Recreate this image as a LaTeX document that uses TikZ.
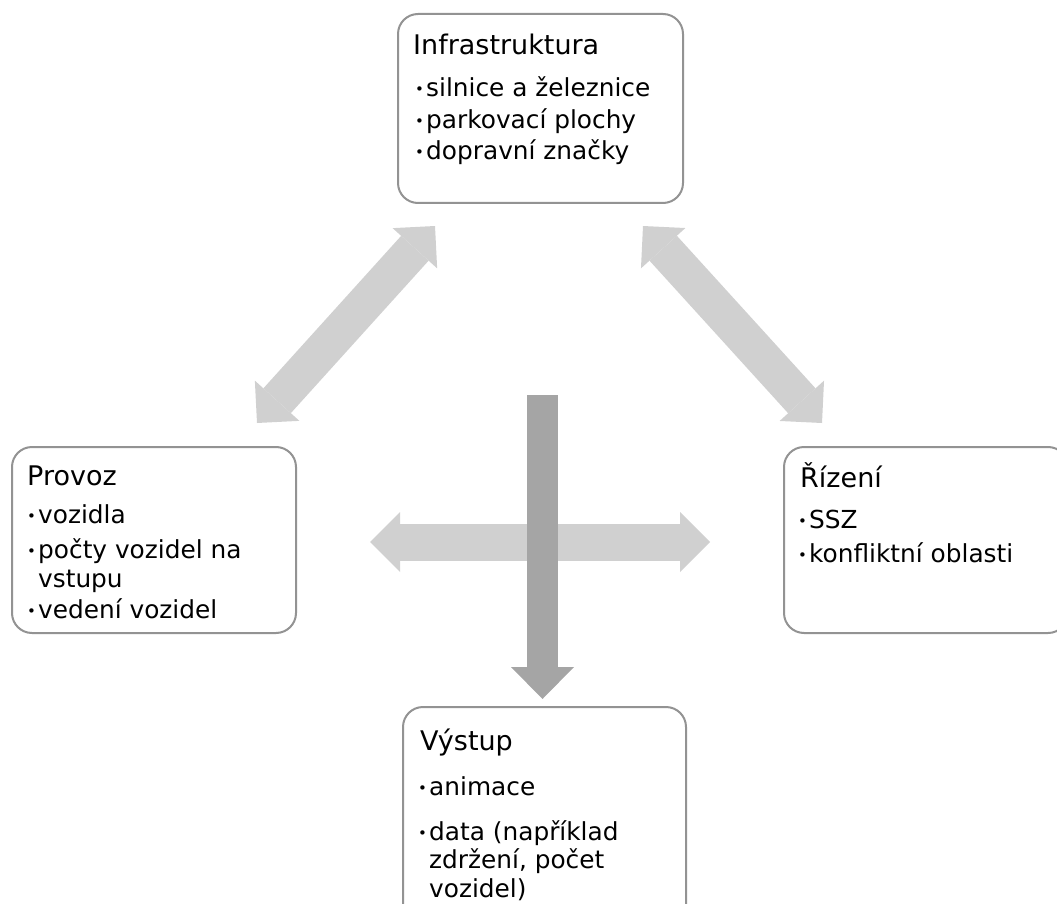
\documentclass[tikz,border=0pt]{standalone}
\usepackage{fontspec}
\setmainfont{DejaVu Sans}
\usetikzlibrary{arrows.meta}
\definecolor{boxline}{HTML}{939393}
\definecolor{lightarrow}{HTML}{D0D0D0}
\definecolor{darkarrow}{HTML}{A5A5A5}
\definecolor{ink}{HTML}{000000}
% small list bullet followed by a fixed gap
\newcommand\bul{\makebox[11pt][l]{\raisebox{2pt}{\fontsize{15}{15}\selectfont •}}}
\begin{document}
\begin{tikzpicture}[x=1pt,y=-1pt,
  panel/.style={draw=boxline, line width=2pt, rounded corners=20pt, fill=white, inner sep=0pt},
  head/.style={anchor=base west, inner sep=0pt, font=\fontsize{27}{32}\selectfont, text=ink},
  item/.style={anchor=base west, inner sep=0pt, font=\fontsize{24.8}{29}\selectfont, text=ink},
  fatboth/.style={line width=37pt, draw=lightarrow,
    {Triangle[length=30pt,width=60pt,line width=0pt]}-{Triangle[length=30pt,width=60pt,line width=0pt]}},
  fatone/.style={line width=31pt, draw=darkarrow,
    -{Triangle[length=32pt,width=63pt,line width=0pt]}},
]
\clip (0,0) rectangle (1057,904);

% connector end points
\coordinate (d1a) at (257,423);
\coordinate (d1b) at (435,226);
\coordinate (d2a) at (643,226);
\coordinate (d2b) at (822,423);
\coordinate (hA) at (370,542);
\coordinate (hB) at (710,542);
\coordinate (vA) at (542.5,395);
\coordinate (vB) at (542.5,699);

% wide arrows
\draw[fatboth] (d1a) -- (d1b);
\draw[fatboth] (d2a) -- (d2b);
\draw[fatboth] (hA) -- (hB);
\draw[fatone] (vA) -- (vB);

% panels
\node[panel, minimum width=285pt, minimum height=189pt] (infra) at (540.5,108.5) {};
\node[panel, minimum width=284pt, minimum height=186pt] (provoz) at (154,540) {};
\node[panel, minimum width=284pt, minimum height=186pt] (rizeni) at (926,540) {};
\node[panel, minimum width=283pt, minimum height=220pt] (vystup) at (544.5,817) {};

% Infrastruktura
\node[head] (infT) at (413,55) {Infrastruktura};
\node[item] (inf1) at (415,97) {\bul silnice a železnice};
\node[item] (inf2) at (415,128.5) {\bul parkovací plochy};
\node[item] (inf3) at (415,160) {\bul dopravní značky};

% Provoz
\node[head] (proT) at (27,485) {Provoz};
\node[item] (pro1) at (27,523) {\bul vozidla};
\node[item] (pro2) at (27,558) {\bul počty vozidel na};
\node[item] (pro2b) at (38,587) {vstupu};
\node[item] (pro3) at (27,618) {\bul vedení vozidel};

% Řízení
\node[head] (rizT) at (800,487) {Řízení};
\node[item] (riz1) at (798,528) {\bul SSZ};
\node[item] (riz2) at (798,562) {\bul konfliktní oblasti};

% Výstup
\node[head] (vysT) at (420,750) {Výstup};
\node[item] (vys1) at (418,795) {\bul animace};
\node[item] (vys2) at (418,840) {\bul data (například};
\node[item] (vys2b) at (429,868) {zdržení, počet};
\node[item] (vys2c) at (429,897) {vozidel)};
\end{tikzpicture}
\end{document}
